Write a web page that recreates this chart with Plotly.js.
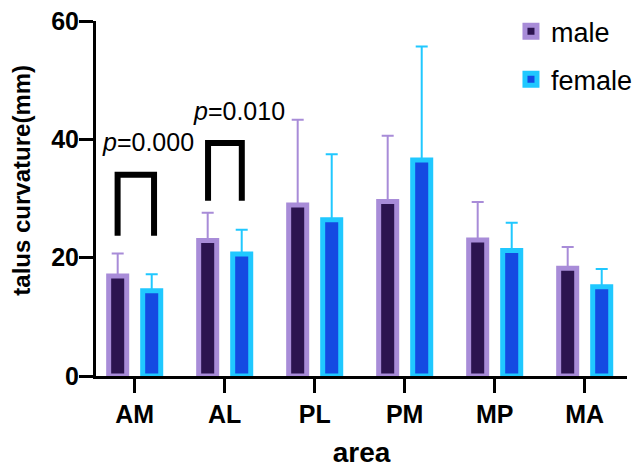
<!DOCTYPE html>
<html>
<head>
<meta charset="utf-8">
<script src="https://cdn.plot.ly/plotly-3.0.1.min.js"></script>
<style>html,body{margin:0;padding:0;background:#fff;}#chart{width:637px;height:468px;}</style>
</head>
<body>
<div id="chart"></div>
<script>
const areas = ["AM", "AL", "PL", "PM", "MP", "MA"];
const maleMean = [16.9, 22.9, 28.9, 29.5, 23.0, 18.2];
const maleSD = [3.8, 4.7, 14.4, 11.1, 6.4, 3.6];
const femaleMean = [14.4, 20.6, 26.4, 36.5, 21.2, 15.1];
const femaleSD = [2.8, 4.1, 11.1, 19.2, 4.7, 3.0];
const noLower = [0, 0, 0, 0, 0, 0];
const pLabels = ["<i>p</i>=0.000", "<i>p</i>=0.010"];
const yTitle = "talus curvature(mm)";

const maleTrace = {
  type: "bar", name: "male", x: areas, y: maleMean,
  legendgroup: "m",
  marker: {color: "#2c1450", line: {color: "#a88cd8", width: 5}},
  error_y: {type: "data", symmetric: false, array: maleSD, arrayminus: noLower,
            color: "#a88cd8", thickness: 2, width: 6}
};
const femaleTrace = {
  type: "bar", name: "female", x: areas, y: femaleMean,
  legendgroup: "f",
  marker: {color: "#144ae2", line: {color: "#20c8ff", width: 5}},
  error_y: {type: "data", symmetric: false, array: femaleSD, arrayminus: noLower,
            color: "#20c8ff", thickness: 2, width: 6}
};

const axisFont = {family: "Liberation Sans, Arial, sans-serif", size: 25, color: "#000", weight: "bold"};
const titleFont = {family: "Liberation Sans, Arial, sans-serif", size: 28, color: "#000", weight: "bold"};

const layout = {
  width: 637, height: 468,
  margin: {l: 96, r: 10, t: 21, b: 92, autoexpand: false},
  paper_bgcolor: "#fff", plot_bgcolor: "#fff",
  barmode: "group", bargap: 0.244, bargroupgap: 0.47,
  showlegend: true,
  legend: {
    x: 0.7815, y: 1.039, xanchor: "left", yanchor: "top",
    font: {family: "Liberation Sans, Arial, sans-serif", size: 27, color: "#000"},
    traceorder: "grouped", tracegroupgap: 10, bgcolor: "rgba(0,0,0,0)"
  },
  xaxis: {
    type: "category", range: [-0.43, 5.47], automargin: false,
    showline: true, linecolor: "#000", linewidth: 3,
    ticks: "outside", ticklen: 14, tickwidth: 3, tickcolor: "#000",
    tickfont: axisFont, ticklabelstandoff: 0,
    showgrid: false, zeroline: false,
    title: {text: "area", font: titleFont, standoff: 18}
  },
  yaxis: {
    range: [0, 60], dtick: 20, automargin: false,
    showline: true, linecolor: "#000", linewidth: 3,
    ticks: "outside", ticklen: 14, tickwidth: 3, tickcolor: "#000",
    tickfont: axisFont, ticklabelstandoff: -5,
    showgrid: false, zeroline: false
  },
  shapes: [
    {type: "path", xref: "x", yref: "y", path: "M -0.19 23.7 L -0.19 34 L 0.215 34 L 0.215 23.7",
     line: {color: "#000", width: 6}},
    {type: "path", xref: "x", yref: "y", path: "M 0.815 29.6 L 0.815 39.4 L 1.19 39.4 L 1.19 29.6",
     line: {color: "#000", width: 6}}
  ],
  annotations: [
    {x: 0.15, y: 39.5, xref: "x", yref: "y", text: pLabels[0], showarrow: false,
     font: {family: "Liberation Sans, Arial, sans-serif", size: 25, color: "#000"}},
    {x: 1.16, y: 44.8, xref: "x", yref: "y", text: pLabels[1], showarrow: false,
     font: {family: "Liberation Sans, Arial, sans-serif", size: 25, color: "#000"}},
    {x: -0.1394, y: 0.553, xref: "paper", yref: "paper", text: yTitle, showarrow: false,
     textangle: -90, xanchor: "center", yanchor: "middle",
     font: {family: "Liberation Sans, Arial, sans-serif", size: 24, color: "#000", weight: "bold"}}
  ]
};

Plotly.newPlot("chart", [maleTrace, femaleTrace], layout, {displayModeBar: false, staticPlot: true});
</script>
</body>
</html>
